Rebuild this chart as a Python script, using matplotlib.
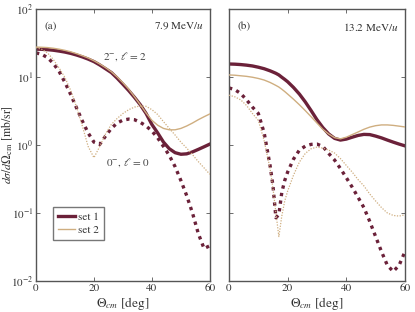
import matplotlib
matplotlib.use("Agg")
import matplotlib.pyplot as plt

plt.rcParams['font.family'] = ['STIXGeneral', 'DejaVu Serif']
plt.rcParams['mathtext.fontset'] = 'stix'

maroon = '#6b2139'
tan = '#cfae80'
gray = '#555555'

# angles (deg)
theta_a = [0, 2, 4, 6, 8, 10, 12, 14, 16, 18, 20, 22, 24, 26, 28, 30,
           32, 34, 36, 38, 40, 42, 44, 46, 48, 50, 52, 54, 56, 58, 60]
theta_b = [0, 2, 4, 6, 8, 10, 12, 14, 15, 16, 17, 18, 19, 20, 22, 24, 26, 28, 30,
           32, 34, 36, 38, 40, 42, 44, 46, 48, 50, 52, 54, 56, 58, 60]

# (a) 7.9 MeV/u
a_set1_l2 = [25.6, 25.5, 25.2, 24.7, 24.0, 23.2, 22.2, 21.0, 19.7, 18.3, 16.8, 15.0, 13.2, 11.6, 9.6, 7.8,
             6.3, 5.0, 3.9, 2.9, 2.0, 1.5, 1.1, 0.88, 0.77, 0.73, 0.74, 0.79, 0.86, 0.94, 1.03]
a_set2_l2 = [27.5, 27.3, 27.0, 26.4, 25.6, 24.6, 23.4, 22.0, 20.5, 19.0, 17.3, 15.5, 13.7, 11.9, 10.0, 8.2,
             6.6, 5.1, 3.9, 2.95, 2.3, 1.95, 1.75, 1.67, 1.67, 1.75, 1.9, 2.1, 2.35, 2.6, 2.86]
a_set1_l0 = [22.6, 21.5, 19.2, 15.8, 12.0, 8.3, 5.5, 3.5, 2.25, 1.5, 1.1, 1.02, 1.35, 1.75, 2.1, 2.32,
             2.4, 2.35, 2.15, 1.9, 1.6, 1.27, 0.95, 0.7, 0.48, 0.3, 0.18, 0.1, 0.05, 0.03, 0.033]
a_set2_l0 = [27.0, 25.5, 22.5, 18.0, 13.5, 9.8, 6.3, 3.6, 1.9, 0.95, 0.65, 0.95, 1.45, 2.0, 2.45, 2.9,
             3.3, 3.6, 3.75, 3.7, 3.3, 2.8, 2.2, 1.75, 1.4, 1.1, 0.9, 0.72, 0.57, 0.46, 0.37]

# (b) 13.2 MeV/u
b_set1_l2 = [15.5, 15.4, 15.2, 14.9, 14.5, 13.9, 13.2, 12.3, 11.8, 11.3, 10.7, 9.9, 9.2, 8.5, 7.0, 5.6, 4.3, 3.2, 2.35,
             1.8, 1.45, 1.25, 1.18, 1.22, 1.3, 1.38, 1.43, 1.42, 1.35, 1.27, 1.18, 1.1, 1.03, 0.97]
b_set2_l2 = [10.7, 10.6, 10.4, 10.2, 9.9, 9.5, 9.0, 8.3, 7.9, 7.5, 7.1, 6.6, 6.1, 5.6, 4.7, 3.9, 3.2, 2.6, 2.1,
             1.7, 1.45, 1.28, 1.23, 1.3, 1.42, 1.55, 1.7, 1.83, 1.92, 1.97, 1.97, 1.94, 1.89, 1.84]
b_set1_l0 = [6.9, 6.5, 5.7, 4.6, 3.6, 2.9, 1.5, 0.5, 0.25, 0.085, 0.095, 0.2, 0.3, 0.4, 0.62, 0.84, 0.96, 1.02, 1.03,
             0.95, 0.75, 0.6, 0.45, 0.33, 0.24, 0.17, 0.12, 0.075, 0.045, 0.027, 0.017, 0.0138, 0.017, 0.027]
b_set2_l0 = [5.4, 5.1, 4.6, 3.8, 2.9, 2.3, 1.15, 0.45, 0.23, 0.1, 0.045, 0.09, 0.15, 0.21, 0.36, 0.56, 0.75, 0.88, 0.93,
             0.9, 0.84, 0.76, 0.63, 0.5, 0.4, 0.31, 0.25, 0.19, 0.15, 0.12, 0.1, 0.092, 0.09, 0.094]

fig = plt.figure(figsize=(4.15, 3.12), dpi=100)
ax1 = fig.add_axes([0.0867, 0.0994, 0.419, 0.872])
ax2 = fig.add_axes([0.5518, 0.0994, 0.424, 0.872])

panels = [
    (ax1, theta_a, a_set1_l2, a_set2_l2, a_set1_l0, a_set2_l0, '(a)', '7.9 MeV/$u$'),
    (ax2, theta_b, b_set1_l2, b_set2_l2, b_set1_l0, b_set2_l0, '(b)', '13.2 MeV/$u$'),
]

for ax, th, s1, s2, d1, d2, tag, energy in panels:
    ax.plot(th, s2, color=tan, lw=1.0, label='set 2', zorder=3)
    ax.plot(th, s1, color=maroon, lw=2.4, label='set 1', zorder=2)
    ax.plot(th, d2, color=tan, lw=0.9, linestyle=(0, (1, 1.2)), zorder=3)
    ax.plot(th, d1, color=maroon, lw=2.4, linestyle=(0, (1, 1.3)), zorder=2)
    ax.set_yscale('log')
    ax.set_xlim(0, 60)
    ax.set_ylim(1e-2, 1e2)
    ax.set_xticks([0, 20, 40, 60])
    ax.set_yticks([1e-2, 1e-1, 1e0, 1e1, 1e2])
    ax.minorticks_off()
    ax.tick_params(direction='in', top=True, right=True, length=3, width=0.6,
                   color=gray, labelcolor='#333333', labelsize=8, pad=2)
    for sp in ax.spines.values():
        sp.set_color(gray)
        sp.set_linewidth(1.0)
    ax.set_xlabel(r'$\Theta_{cm}$ [deg]', fontsize=9.5, color='#333333')
    ax.xaxis.set_label_coords(0.5, -0.05)
    ax.xaxis.label.set_va('top')
    ax.text(0.05, 0.955, tag, transform=ax.transAxes, fontsize=8, color='#333333', va='top')
    ax.text(0.965, 0.955, energy, transform=ax.transAxes, fontsize=8, color='#333333',
            va='top', ha='right')

ax2.set_yticklabels([])
ax1.set_yticklabels(['$10^{-2}$', '$10^{-1}$', '$10^{0}$', '$10^{1}$', '$10^{2}$'])
ax1.set_ylabel(r'$d\sigma/d\Omega_{\rm cm}$ [mb/sr]', fontsize=8.5, color='#333333')
ax1.yaxis.set_label_coords(-0.12, 0.5)

ax1.text(23, 18, r'2$^{-}$, $\ell$ = 2', fontsize=8, color='#444444')
ax1.text(24, 0.5, r'0$^{-}$, $\ell$ = 0', fontsize=8, color='#444444')

h, l = ax1.get_legend_handles_labels()
leg = ax1.legend([h[1], h[0]], [l[1], l[0]], loc='lower left', bbox_to_anchor=(0.1, 0.15),
                 fontsize=8, frameon=True, fancybox=False, handlelength=1.5,
                 handletextpad=0.3, borderpad=0.45, labelspacing=0.35, borderaxespad=0)
leg.get_frame().set_edgecolor(gray)
leg.get_frame().set_linewidth(1.0)
for t in leg.get_texts():
    t.set_color('#333333')

fig.savefig('out.png', dpi=100)
